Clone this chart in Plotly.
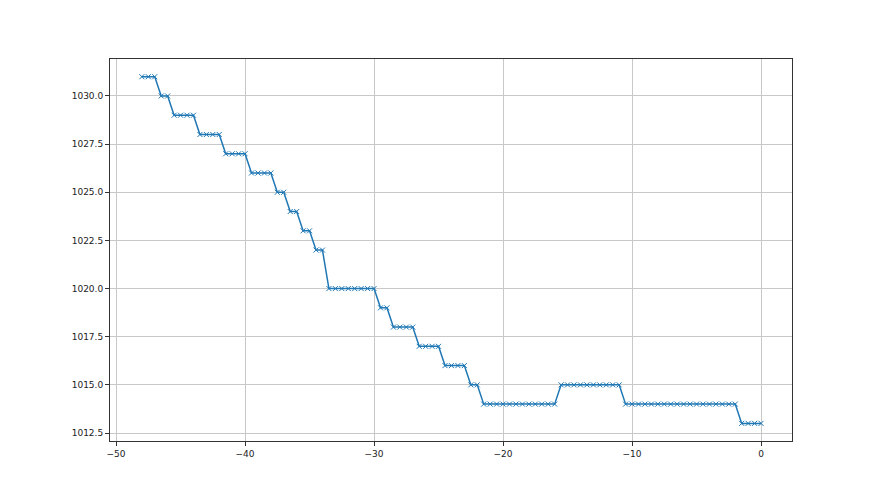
import plotly.graph_objects as go

time_hours = [
    -48.0, -47.5, -47.0, -46.5, -46.0, -45.5, -45.0, -44.5, -44.0, -43.5,
    -43.0, -42.5, -42.0, -41.5, -41.0, -40.5, -40.0, -39.5, -39.0, -38.5,
    -38.0, -37.5, -37.0, -36.5, -36.0, -35.5, -35.0, -34.5, -34.0, -33.5,
    -33.0, -32.5, -32.0, -31.5, -31.0, -30.5, -30.0, -29.5, -29.0, -28.5,
    -28.0, -27.5, -27.0, -26.5, -26.0, -25.5, -25.0, -24.5, -24.0, -23.5,
    -23.0, -22.5, -22.0, -21.5, -21.0, -20.5, -20.0, -19.5, -19.0, -18.5,
    -18.0, -17.5, -17.0, -16.5, -16.0, -15.5, -15.0, -14.5, -14.0, -13.5,
    -13.0, -12.5, -12.0, -11.5, -11.0, -10.5, -10.0, -9.5, -9.0, -8.5,
    -8.0, -7.5, -7.0, -6.5, -6.0, -5.5, -5.0, -4.5, -4.0, -3.5,
    -3.0, -2.5, -2.0, -1.5, -1.0, -0.5, 0.0,
]

pressure = [
    1031, 1031, 1031, 1030, 1030, 1029, 1029, 1029, 1029, 1028,
    1028, 1028, 1028, 1027, 1027, 1027, 1027, 1026, 1026, 1026,
    1026, 1025, 1025, 1024, 1024, 1023, 1023, 1022, 1022, 1020,
    1020, 1020, 1020, 1020, 1020, 1020, 1020, 1019, 1019, 1018,
    1018, 1018, 1018, 1017, 1017, 1017, 1017, 1016, 1016, 1016,
    1016, 1015, 1015, 1014, 1014, 1014, 1014, 1014, 1014, 1014,
    1014, 1014, 1014, 1014, 1014, 1015, 1015, 1015, 1015, 1015,
    1015, 1015, 1015, 1015, 1015, 1014, 1014, 1014, 1014, 1014,
    1014, 1014, 1014, 1014, 1014, 1014, 1014, 1014, 1014, 1014,
    1014, 1014, 1014, 1013, 1013, 1013, 1013,
]

x_ticks = [-50, -40, -30, -20, -10, 0]
y_ticks = [1012.5, 1015.0, 1017.5, 1020.0, 1022.5, 1025.0, 1027.5, 1030.0]

fig = go.Figure(
    go.Scatter(
        x=time_hours,
        y=pressure,
        mode="lines+markers",
        line=dict(color="#1f77b4", width=1.5),
        marker=dict(symbol="x-thin", size=5, line=dict(color="#1f77b4", width=1)),
        showlegend=False,
    )
)

axis_common = dict(
    showline=True,
    linecolor="#333333",
    linewidth=1,
    mirror=True,
    ticks="outside",
    ticklen=4,
    tickcolor="#333333",
    showgrid=True,
    gridcolor="#c8c8c8",
    gridwidth=1,
    zeroline=False,
    tickfont=dict(family="DejaVu Sans", size=9, color="#222222"),
)

fig.update_xaxes(
    range=[-50.47, 2.4],
    tickvals=x_ticks,
    **axis_common,
)
fig.update_yaxes(
    range=[1012.085, 1031.92],
    tickvals=y_ticks,
    tickformat=".1f",
    **axis_common,
)

fig.update_layout(
    width=864,
    height=479,
    margin=dict(l=102, r=80, t=51, b=46),
    paper_bgcolor="white",
    plot_bgcolor="white",
)

fig.write_html("out.html")
